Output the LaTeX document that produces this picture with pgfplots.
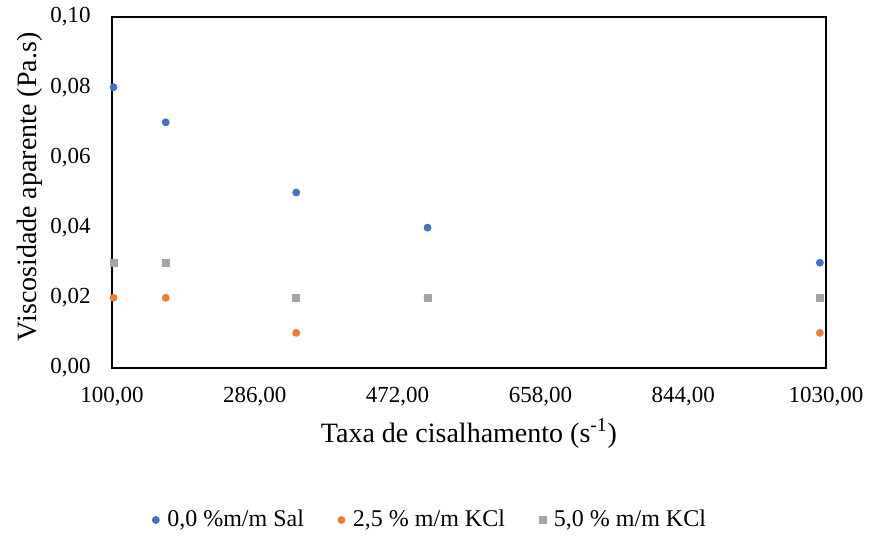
\documentclass[border=0pt]{standalone}
\usepackage{pgfplots}
\pgfplotsset{compat=1.18}
\usepackage{fontspec}
\setmainfont{Liberation Serif}
\definecolor{cA}{HTML}{4472C4}
\definecolor{cB}{HTML}{ED7D31}
\definecolor{cC}{HTML}{A5A5A5}
\begin{document}
\begin{tikzpicture}
\path[use as bounding box] (-56pt,-84pt) rectangle (379pt,184pt);
\begin{axis}[
  at={(0,0)}, anchor=south west,
  scale only axis, width=357pt, height=175.5pt,
  xmin=100, xmax=1030, ymin=0, ymax=0.1,
  xtick={100,286,472,658,844,1030},
  ytick={0,0.02,0.04,0.06,0.08,0.1},
  major tick length=0pt,
  axis line style={black, line width=0.7pt},
  /pgf/number format/assume math mode=true,
  /pgf/number format/.cd, fixed, fixed zerofill, precision=2, use comma, 1000 sep={},
  /pgfplots/.cd,
  scaled y ticks=false, scaled x ticks=false,
  ticklabel style={font=\fontsize{11.5}{13}\selectfont},
  xticklabel style={anchor=north, inner sep=0pt, yshift=-9.5pt},
  yticklabel style={anchor=east, inner sep=0pt, xshift=-10.5pt},
  xlabel={Taxa de cisalhamento (s\textsuperscript{-1})},
  ylabel={Viscosidade aparente (Pa.s)},
  label style={font=\fontsize{14}{16}\selectfont},
  xlabel style={at={(axis description cs:0.5,0)}, anchor=base, inner sep=0pt, yshift=-37pt},
  ylabel style={at={(axis description cs:-0.134,0.516)}, anchor=north, inner sep=0pt, rotate=0},
  legend style={at={(axis description cs:0.447,-0.433)}, anchor=center, draw=none,
     font=\fontsize{12}{14}\selectfont, legend columns=3,
     /tikz/every even column/.append style={column sep=15pt},
     /tikz/every odd column/.append style={column sep=2pt}},
  legend cell align=left,
  clip=false,
]
\addplot[only marks, mark=*, mark size=1.75pt, mark options={draw=cA, fill=cA}]
  coordinates {(102,0.08) (170,0.07) (340,0.05) (511,0.04) (1022,0.03)};
\addlegendentry{0,0 \%m/m Sal}
\addplot[only marks, mark=*, mark size=1.75pt, mark options={draw=cB, fill=cB}]
  coordinates {(102,0.02) (170,0.02) (340,0.01) (511,0.02) (1022,0.01)};
\addlegendentry{2,5 \% m/m KCl}
\addplot[only marks, mark=square*, mark size=1.75pt, mark options={draw=cC, fill=cC}]
  coordinates {(102,0.03) (170,0.03) (340,0.02) (511,0.02) (1022,0.02)};
\addlegendentry{5,0 \% m/m KCl}
\end{axis}
\end{tikzpicture}
\end{document}
